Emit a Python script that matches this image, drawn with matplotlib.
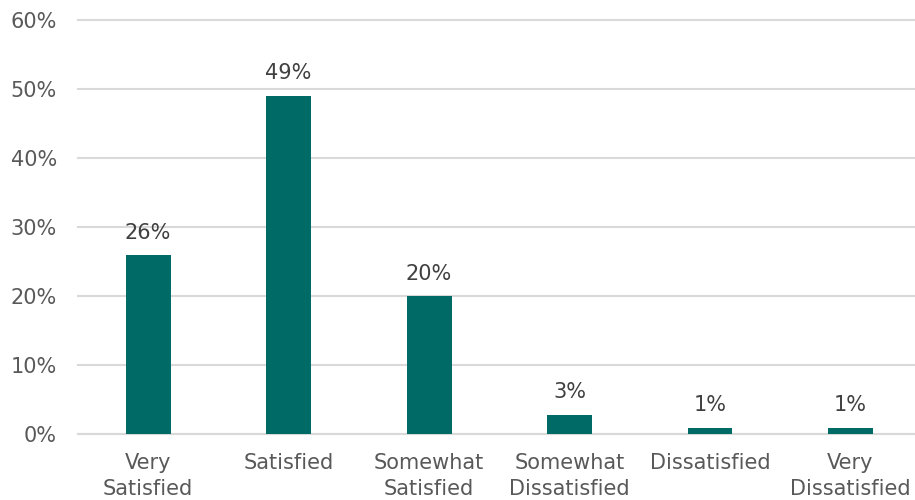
import matplotlib.pyplot as plt
from matplotlib.ticker import PercentFormatter

categories = ['Very\nSatisfied', 'Satisfied', 'Somewhat\nSatisfied',
              'Somewhat\nDissatisfied', 'Dissatisfied', 'Very\nDissatisfied']
values = [25.9, 49.0, 20.0, 2.8, 0.9, 0.9]
labels = ['26%', '49%', '20%', '3%', '1%', '1%']
y_ticks = [0, 10, 20, 30, 40, 50, 60]

bar_color = '#006B66'
text_color = '#595959'

fig = plt.figure(figsize=(9.15, 5.0), dpi=100)
ax = fig.add_axes([0.0852, 0.132, 0.921, 0.828])

x = range(len(categories))
ax.bar(x, values, width=0.32, color=bar_color, zorder=3)

for xi, v, lab in zip(x, values, labels):
    ax.annotate(lab, (xi, v), xytext=(0, 9), textcoords='offset points',
                ha='center', va='bottom', fontsize=15, color='#404040')

ax.set_xlim(-0.5, len(categories) - 0.5)
ax.set_ylim(0, 60)
ax.set_yticks(y_ticks)
ax.yaxis.set_major_formatter(PercentFormatter(decimals=0))
ax.set_xticks(list(x))
ax.set_xticklabels(categories, linespacing=1.35)

ax.grid(axis='y', color='#D9D9D9', linewidth=1.5, zorder=0)
for gl in ax.yaxis.get_gridlines():
    gl.set_clip_on(False)
for side in ['top', 'right', 'left']:
    ax.spines[side].set_visible(False)
ax.spines['bottom'].set_color('#D9D9D9')
ax.spines['bottom'].set_linewidth(1.5)
ax.tick_params(axis='both', length=0, labelsize=15, colors=text_color)
ax.tick_params(axis='y', pad=15)
ax.tick_params(axis='x', pad=14)

fig.savefig('out.png', dpi=100)
